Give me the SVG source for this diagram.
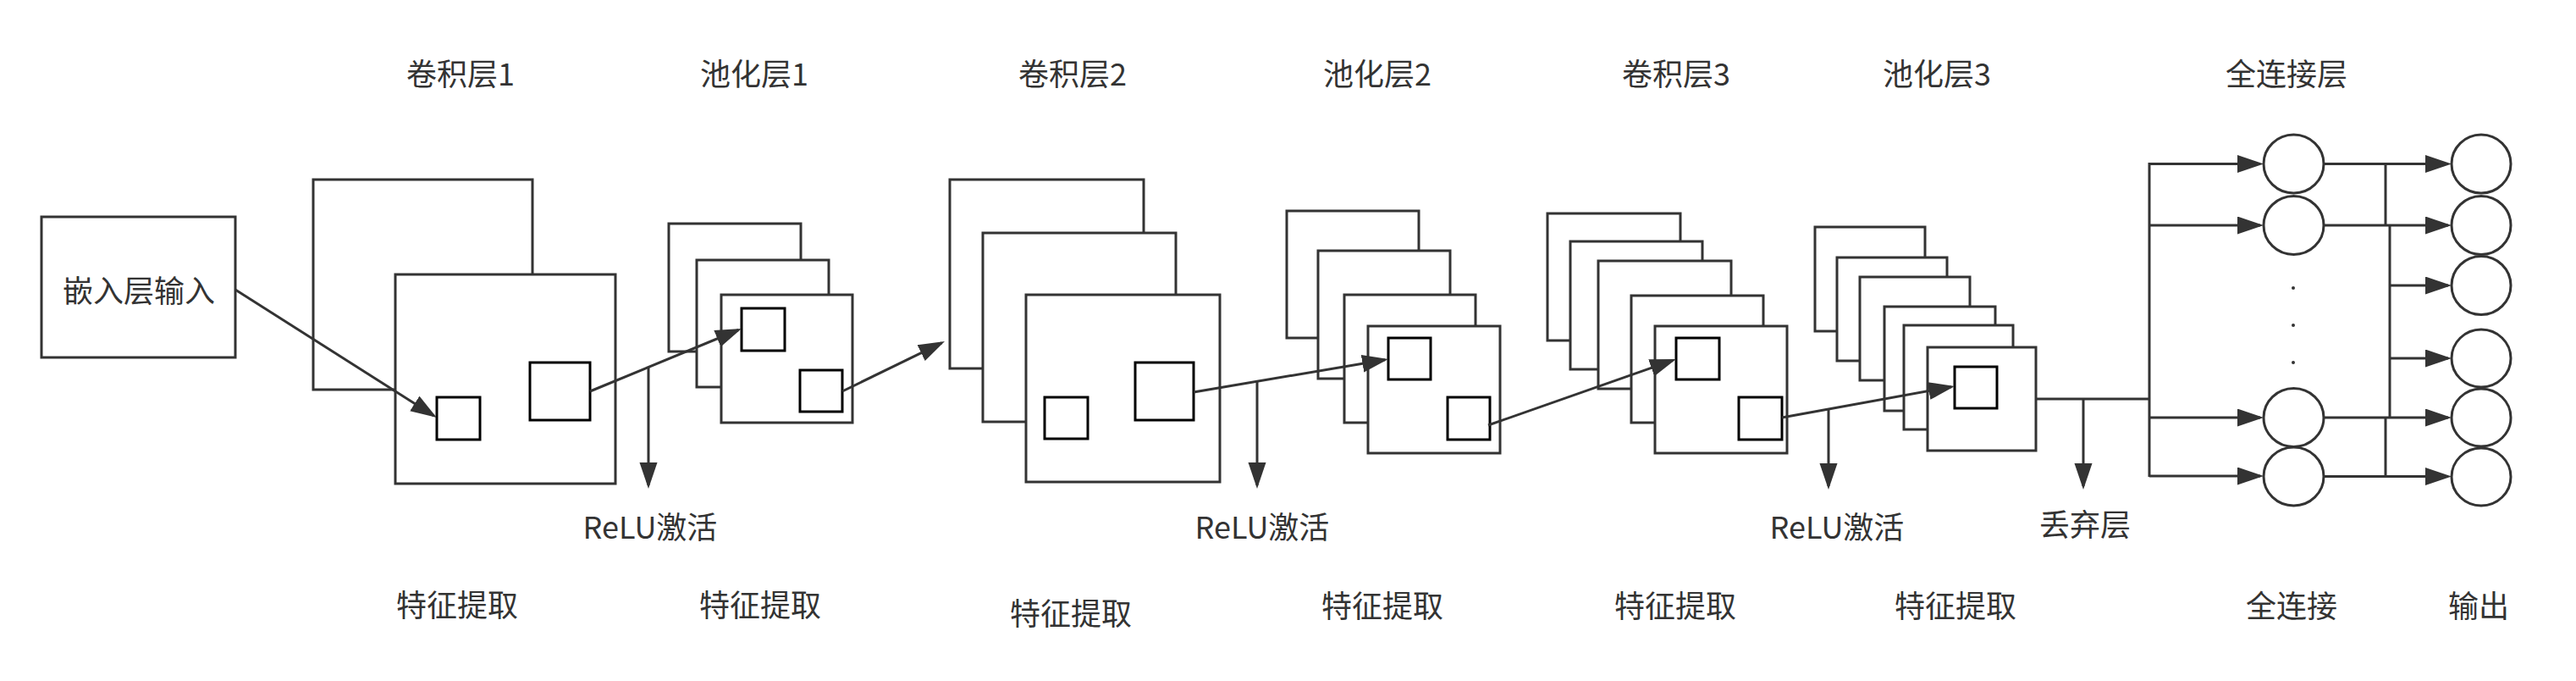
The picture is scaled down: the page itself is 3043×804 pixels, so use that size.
<svg xmlns="http://www.w3.org/2000/svg" width="3043" height="804" viewBox="0 0 3043 804">
<style>
.f{fill:#fff;stroke:#333;stroke-width:3}
.s{fill:#fff;stroke:#000;stroke-width:3}
.c{fill:none;stroke:#333;stroke-width:3}
.a{fill:none;stroke:#333;stroke-width:3;marker-end:url(#ah)}
.t{font-family:"Microsoft YaHei","Noto Sans CJK SC",sans-serif;font-size:36px;fill:#333;text-anchor:middle}
</style>
<defs>
<marker id="ah" markerUnits="userSpaceOnUse" markerWidth="32" markerHeight="22" refX="27" refY="10.5" orient="auto">
<path d="M0,0 L31,10.5 L0,21 Z" fill="#333"/>
</marker>
</defs>
<rect width="3043" height="804" fill="#fff"/>
<g id="input">
<rect class="f" x="49" y="256" width="229" height="166"/>
<text class="t" x="164" y="357">嵌入层输入</text>
</g>
<g id="conv1">
<rect class="f" x="370" y="212" width="259" height="248"/>
<rect class="f" x="467" y="324" width="260" height="247"/>
<rect class="s" x="516" y="469" width="51" height="50"/>
<rect class="s" x="626" y="428" width="71" height="68"/>
<text class="t" x="544" y="101">卷积层1</text>
<text class="t" x="540" y="728">特征提取</text>
</g>
<g id="pool1">
<rect class="f" x="790" y="264" width="156" height="151"/>
<rect class="f" x="823" y="307" width="156" height="150"/>
<rect class="f" x="852" y="348" width="155" height="151"/>
<rect class="s" x="876" y="364" width="51" height="50"/>
<rect class="s" x="945" y="437" width="50" height="49"/>
<text class="t" x="891" y="101">池化层1</text>
<text class="t" x="898" y="728">特征提取</text>
</g>
<g id="conv2">
<rect class="f" x="1122" y="212" width="229" height="223"/>
<rect class="f" x="1161" y="275" width="228" height="223"/>
<rect class="f" x="1212" y="348" width="229" height="221"/>
<rect class="s" x="1234" y="469" width="51" height="49"/>
<rect class="s" x="1341" y="428" width="69" height="68"/>
<text class="t" x="1267" y="101">卷积层2</text>
<text class="t" x="1265" y="738">特征提取</text>
</g>
<g id="pool2">
<rect class="f" x="1520" y="249" width="156" height="150"/>
<rect class="f" x="1557" y="296" width="156" height="151"/>
<rect class="f" x="1588" y="348" width="155" height="151"/>
<rect class="f" x="1616" y="385" width="156" height="150"/>
<rect class="s" x="1640" y="399" width="50" height="49"/>
<rect class="s" x="1710" y="469" width="50" height="50"/>
<text class="t" x="1627" y="101">池化层2</text>
<text class="t" x="1633" y="729">特征提取</text>
</g>
<g id="conv3">
<rect class="f" x="1828" y="252" width="157" height="150"/>
<rect class="f" x="1855" y="285" width="156" height="151"/>
<rect class="f" x="1888" y="308" width="157" height="151"/>
<rect class="f" x="1927" y="349" width="156" height="150"/>
<rect class="f" x="1955" y="385" width="156" height="150"/>
<rect class="s" x="1980" y="399" width="51" height="49"/>
<rect class="s" x="2054" y="469" width="51" height="50"/>
<text class="t" x="1980" y="101">卷积层3</text>
<text class="t" x="1979" y="729">特征提取</text>
</g>
<g id="pool3">
<rect class="f" x="2144" y="268" width="130" height="123"/>
<rect class="f" x="2170" y="304" width="130" height="122"/>
<rect class="f" x="2197" y="327" width="130" height="122"/>
<rect class="f" x="2226" y="362" width="131" height="123"/>
<rect class="f" x="2249" y="384" width="129" height="123"/>
<rect class="f" x="2277" y="410" width="128" height="122"/>
<rect class="s" x="2309" y="433" width="50" height="49"/>
<text class="t" x="2288" y="101">池化层3</text>
<text class="t" x="2310" y="729">特征提取</text>
</g>
<g id="relu1"><text class="t" x="768" y="636">ReLU激活</text></g>
<g id="relu2"><text class="t" x="1491" y="636">ReLU激活</text></g>
<g id="relu3"><text class="t" x="2170" y="636">ReLU激活</text></g>
<g id="dropout"><text class="t" x="2463" y="633">丢弃层</text></g>
<g id="fc">
<ellipse class="f" cx="2709.5" cy="193.5" rx="35.5" ry="34.5"/>
<ellipse class="f" cx="2709.5" cy="266" rx="35.5" ry="34.5"/>
<ellipse class="f" cx="2709.5" cy="493" rx="35.5" ry="34.5"/>
<ellipse class="f" cx="2709.5" cy="562.5" rx="35.5" ry="34.5"/>
<circle cx="2709" cy="340" r="2" fill="#333"/>
<circle cx="2709" cy="384" r="2" fill="#333"/>
<circle cx="2709" cy="428" r="2" fill="#333"/>
<text class="t" x="2701" y="101">全连接层</text>
<text class="t" x="2707" y="729">全连接</text>
</g>
<g id="output">
<ellipse class="f" cx="2931" cy="193.5" rx="35" ry="34.5"/>
<ellipse class="f" cx="2931" cy="266" rx="35" ry="34.5"/>
<ellipse class="f" cx="2931" cy="337" rx="35" ry="34.5"/>
<ellipse class="f" cx="2931" cy="423" rx="35" ry="34"/>
<ellipse class="f" cx="2931" cy="493" rx="35" ry="34"/>
<ellipse class="f" cx="2931" cy="563" rx="35" ry="34"/>
<text class="t" x="2928" y="729">输出</text>
</g>
<g id="connectors">
<line class="a" x1="278" y1="342" x2="512.6" y2="490.9"/>
<line class="a" x1="697" y1="462" x2="872.3" y2="389.5"/>
<line class="a" x1="995" y1="462" x2="1112.4" y2="404.8"/>
<line class="a" x1="1410" y1="463" x2="1636.1" y2="424.7"/>
<line class="a" x1="1758" y1="502" x2="1976.2" y2="425.3"/>
<line class="a" x1="2105" y1="493" x2="2305.1" y2="456.7"/>
<line class="a" x1="766" y1="433" x2="766" y2="573"/>
<line class="a" x1="1485" y1="450" x2="1485" y2="573"/>
<line class="a" x1="2160" y1="483" x2="2160" y2="574"/>
<line class="a" x1="2461" y1="471" x2="2461" y2="574"/>
<line class="c" x1="2405" y1="471" x2="2539" y2="471"/>
<line class="c" x1="2539" y1="192" x2="2539" y2="563"/>
<line class="a" x1="2539" y1="193.5" x2="2670" y2="193.5"/>
<line class="a" x1="2539" y1="266" x2="2670" y2="266"/>
<line class="a" x1="2539" y1="493" x2="2670" y2="493"/>
<line class="a" x1="2539" y1="562" x2="2670" y2="562"/>
<line class="a" x1="2745" y1="193.5" x2="2892" y2="193.5"/>
<line class="a" x1="2745" y1="266" x2="2892" y2="266"/>
<line class="a" x1="2745" y1="493" x2="2892" y2="493"/>
<line class="a" x1="2745" y1="562.5" x2="2892" y2="562.5"/>
<line class="c" x1="2818" y1="193.5" x2="2818" y2="266"/>
<line class="c" x1="2823" y1="266" x2="2823" y2="493"/>
<line class="c" x1="2818" y1="493" x2="2818" y2="562.5"/>
<line class="a" x1="2823" y1="337" x2="2892" y2="337"/>
<line class="a" x1="2823" y1="423" x2="2892" y2="423"/>
</g>
</svg>
